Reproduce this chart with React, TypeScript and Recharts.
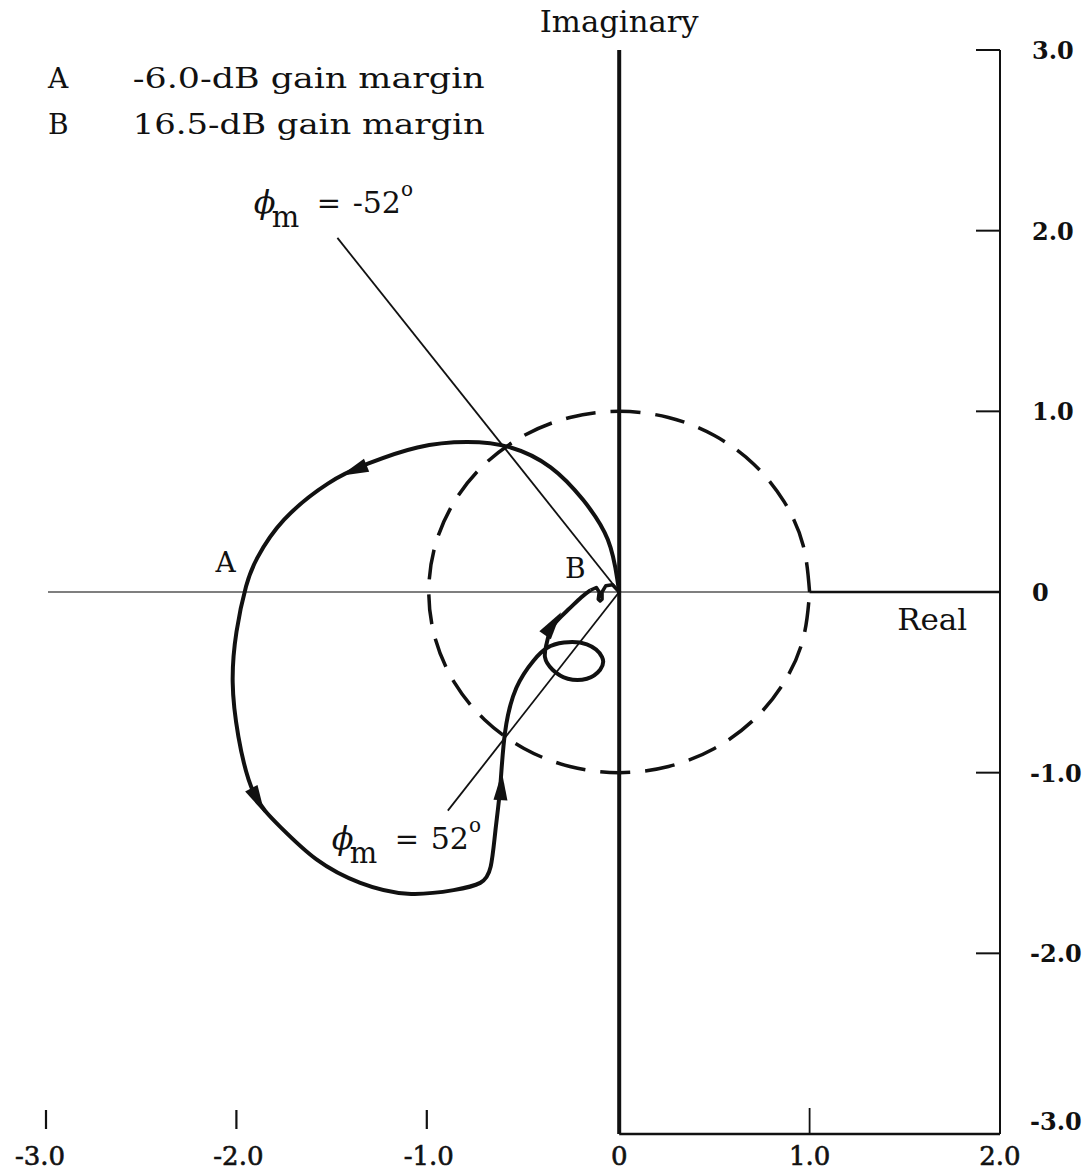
import { ComposedChart, Line, Scatter, XAxis, YAxis, ReferenceLine, ReferenceDot } from "recharts";

const SERIF = '"DejaVu Serif", "Liberation Serif", serif';
const INK = "#111";

const xTicks = [-3, -2, -1, 0, 1, 2];
const xTickLabels = ["-3.0", "-2.0", "-1.0", "0", "1.0", "2.0"];
const yTicks = [3, 2, 1, 0, -1, -2, -3];
const yTickLabels = ["3.0", "2.0", "1.0", "0", "-1.0", "-2.0", "-3.0"];

// open-loop locus, traced from the origin in the direction of the arrows
const locus = [
  { x: 0, y: 0 }, { x: -0.01, y: 0.07 }, { x: -0.06, y: 0.29 }, { x: -0.19, y: 0.51 },
  { x: -0.36, y: 0.69 }, { x: -0.57, y: 0.8 }, { x: -0.8, y: 0.83 }, { x: -1.06, y: 0.8 },
  { x: -1.32, y: 0.71 }, { x: -1.53, y: 0.6 }, { x: -1.76, y: 0.4 }, { x: -1.9, y: 0.19 },
  { x: -1.96, y: 0.03 }, { x: -2.01, y: -0.22 }, { x: -2.03, y: -0.5 }, { x: -2.0, y: -0.8 },
  { x: -1.92, y: -1.11 }, { x: -1.78, y: -1.3 }, { x: -1.59, y: -1.48 }, { x: -1.36, y: -1.61 },
  { x: -1.11, y: -1.67 }, { x: -0.87, y: -1.65 }, { x: -0.73, y: -1.61 }, { x: -0.675, y: -1.52 },
  { x: -0.65, y: -1.32 }, { x: -0.625, y: -1.08 }, { x: -0.6, y: -0.78 }, { x: -0.54, y: -0.53 },
  { x: -0.45, y: -0.38 }, { x: -0.38, y: -0.31 }, { x: -0.29, y: -0.28 }, { x: -0.17, y: -0.29 },
  { x: -0.09, y: -0.36 }, { x: -0.1, y: -0.43 }, { x: -0.17, y: -0.48 }, { x: -0.27, y: -0.48 },
  { x: -0.35, y: -0.43 }, { x: -0.39, y: -0.36 }, { x: -0.38, y: -0.28 }, { x: -0.35, y: -0.19 },
  { x: -0.27, y: -0.1 }, { x: -0.2, y: -0.03 }, { x: -0.15, y: 0.01 },
];

// tiny kink next to B, drawn straight
const locusTail = [
  { x: -0.15, y: 0.01 }, { x: -0.12, y: 0.025 }, { x: -0.105, y: 0.0 }, { x: -0.11, y: -0.04 },
  { x: -0.1, y: -0.05 }, { x: -0.09, y: -0.04 }, { x: -0.09, y: 0.0 }, { x: -0.07, y: 0.035 },
  { x: -0.035, y: 0.04 }, { x: 0, y: 0 },
];

// |G| = 1 circle, every 15 degrees
const unitCircle = [
  { x: 1, y: 0 }, { x: 0.966, y: 0.259 }, { x: 0.866, y: 0.5 }, { x: 0.707, y: 0.707 },
  { x: 0.5, y: 0.866 }, { x: 0.259, y: 0.966 }, { x: 0, y: 1 }, { x: -0.259, y: 0.966 },
  { x: -0.5, y: 0.866 }, { x: -0.707, y: 0.707 }, { x: -0.866, y: 0.5 }, { x: -0.966, y: 0.259 },
  { x: -1, y: 0 }, { x: -0.966, y: -0.259 }, { x: -0.866, y: -0.5 }, { x: -0.707, y: -0.707 },
  { x: -0.5, y: -0.866 }, { x: -0.259, y: -0.966 }, { x: 0, y: -1 }, { x: 0.259, y: -0.966 },
  { x: 0.5, y: -0.866 }, { x: 0.707, y: -0.707 }, { x: 0.866, y: -0.5 }, { x: 0.966, y: -0.259 },
  { x: 1, y: 0 },
];

const phaseLineUpper = [{ x: 0, y: 0 }, { x: -1.48, y: 1.96 }];
const phaseLineLower = [{ x: 0, y: 0 }, { x: -0.9, y: -1.21 }];

// arrowheads on the locus; angle is the on-screen heading in degrees
const arrows = [
  { x: -1.39, y: 0.675, angle: 158 },
  { x: -1.9, y: -1.15, angle: 62 },
  { x: -0.62, y: -1.08, angle: -87 },
  { x: -0.35, y: -0.18, angle: -55 },
];

const Arrow = (props: any) => {
  const { cx, cy, payload } = props;
  return (
    <polygon
      points="15,0 -13,-7 -13,7"
      fill={INK}
      transform={`translate(${cx},${cy}) rotate(${payload.angle})`}
    />
  );
};

const XTick = ({ x, y, payload }: any) => {
  const v = payload.value;
  const label = xTickLabels[xTicks.indexOf(v)];
  return (
    <g>
      {v < 0 && <line x1={x - 2} x2={x - 2} y1={y - 24} y2={y - 5} stroke={INK} strokeWidth={2.2} />}
      {v === 1 && <line x1={x} x2={x} y1={y - 26} y2={y} stroke={INK} strokeWidth={1.8} />}
      <text x={v === -3 ? x - 8 : x} y={y + 31} textAnchor="middle" fontFamily={SERIF} fontSize={26} fill={INK} stroke={INK} strokeWidth={0.6}>
        {label}
      </text>
    </g>
  );
};

const YTick = ({ x, y, payload }: any) => {
  const v = payload.value;
  const label = yTickLabels[yTicks.indexOf(v)];
  return (
    <g>
      {v !== 0 && v !== -3 && <line x1={x - 24} x2={x} y1={y} y2={y} stroke={INK} strokeWidth={2} />}
      <text x={x + (v < 0 ? 30 : 32)} y={y + (v === -3 ? -4 : 9)} fontFamily={SERIF} fontSize={24} fontWeight={700} fill={INK}>
        {label}
      </text>
    </g>
  );
};

const phiNote = (value: string) => (p: any) => (
  <g fontFamily={SERIF} fill={INK}>
    <text x={p.cx} y={p.cy} fontSize={32} fontStyle="italic">ϕ</text>
    <text x={p.cx + 18} y={p.cy + 14} fontSize={29}>m</text>
    <text x={p.cx + 63} y={p.cy} fontSize={29}>=</text>
    <text x={p.cx + 99} y={p.cy} fontSize={30}>
      {value}
      <tspan dy={-17} fontSize={20}>o</tspan>
    </text>
  </g>
);

const textNote = (text: string, size: number, anchor: "start" | "middle", width?: number) => (p: any) => (
  <text
    x={p.cx}
    y={p.cy}
    textAnchor={anchor}
    fontFamily={SERIF}
    fontSize={size}
    fill={INK}
    textLength={width}
    lengthAdjust="spacingAndGlyphs"
  >
    {text}
  </text>
);

export default function App() {
  return (
    <div style={{ position: "absolute", left: 0, top: 0, width: 1089, height: 1176, background: "#fff" }}>
      <ComposedChart width={1089} height={1176} margin={{ top: 50, right: 0, bottom: 0, left: 48 }}>
        <XAxis
          dataKey="x"
          type="number"
          domain={[-3, 2]}
          ticks={xTicks}
          axisLine={false}
          tickLine={false}
          tickSize={0}
          tickMargin={0}
          height={42}
          tick={<XTick />}
          interval={0}
        />
        <YAxis
          dataKey="y"
          type="number"
          orientation="right"
          domain={[-3, 3]}
          ticks={yTicks}
          axisLine={{ stroke: INK, strokeWidth: 2 }}
          tickLine={false}
          tickSize={0}
          tickMargin={0}
          width={89}
          tick={<YTick />}
          interval={0}
        />

        <ReferenceLine y={0} stroke="#555" strokeWidth={1.5} />
        <ReferenceLine segment={[{ x: 1, y: 0 }, { x: 2, y: 0 }]} stroke={INK} strokeWidth={2.5} />
        <ReferenceLine segment={[{ x: 0, y: -3 }, { x: 2, y: -3 }]} stroke={INK} strokeWidth={2.5} />
        <ReferenceLine x={0} stroke={INK} strokeWidth={4} />

        <Line data={unitCircle} dataKey="y" type="natural" stroke={INK} strokeWidth={3.5} strokeDasharray="30 15" dot={false} activeDot={false} isAnimationActive={false} />
        <Line data={phaseLineUpper} dataKey="y" type="linear" stroke={INK} strokeWidth={1.8} dot={false} activeDot={false} isAnimationActive={false} />
        <Line data={phaseLineLower} dataKey="y" type="linear" stroke={INK} strokeWidth={1.8} dot={false} activeDot={false} isAnimationActive={false} />
        <Line data={locus} dataKey="y" type="natural" stroke={INK} strokeWidth={4} dot={false} activeDot={false} isAnimationActive={false} />
        <Line data={locusTail} dataKey="y" type="linear" stroke={INK} strokeWidth={3.5} strokeLinejoin="round" dot={false} activeDot={false} isAnimationActive={false} />
        <Scatter data={arrows} shape={Arrow} isAnimationActive={false} />

        <ReferenceDot x={0} y={3.1} ifOverflow="visible" shape={textNote("Imaginary", 29, "middle", 159)} />
        <ReferenceDot x={1.46} y={-0.21} ifOverflow="visible" shape={textNote("Real", 29, "start", 70)} />
        <ReferenceDot x={-2.12} y={0.11} ifOverflow="visible" shape={textNote("A", 28, "start")} />
        <ReferenceDot x={-0.285} y={0.08} ifOverflow="visible" shape={textNote("B", 28, "start")} />
        <ReferenceDot x={-3} y={2.79} ifOverflow="visible" shape={textNote("A", 28, "start")} />
        <ReferenceDot x={-2.555} y={2.79} ifOverflow="visible" shape={textNote("-6.0-dB  gain  margin", 28, "start", 352)} />
        <ReferenceDot x={-3} y={2.535} ifOverflow="visible" shape={textNote("B", 28, "start")} />
        <ReferenceDot x={-2.555} y={2.535} ifOverflow="visible" shape={textNote("16.5-dB  gain  margin", 28, "start", 352)} />
        <ReferenceDot x={-1.92} y={2.1} ifOverflow="visible" shape={phiNote("-52")} />
        <ReferenceDot x={-1.51} y={-1.42} ifOverflow="visible" shape={phiNote("52")} />
      </ComposedChart>
    </div>
  );
}
